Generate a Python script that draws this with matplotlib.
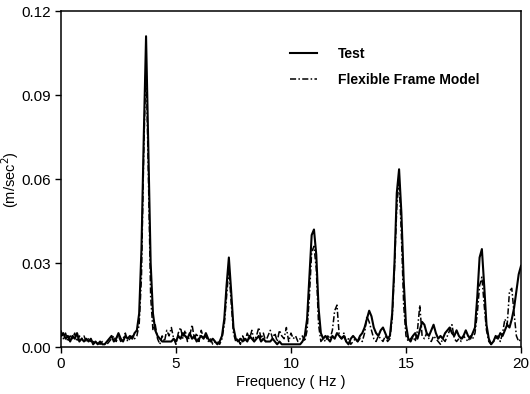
import numpy as np
import matplotlib
matplotlib.use("Agg")
import matplotlib.pyplot as plt

# Frequency grid (Hz), 0.1 Hz resolution
freq = np.round(np.arange(0, 201) * 0.1, 1)

test = [
    0.004, 0.005, 0.003, 0.004, 0.002, 0.004, 0.003, 0.005, 0.002, 0.003,
    0.002, 0.003, 0.002, 0.003, 0.001, 0.002, 0.001, 0.002, 0.001, 0.001,
    0.002, 0.003, 0.004, 0.002, 0.003, 0.005, 0.003, 0.002, 0.004, 0.003,
    0.004, 0.003, 0.005, 0.006, 0.012, 0.035, 0.075, 0.111, 0.070, 0.030,
    0.012, 0.006, 0.004, 0.003, 0.002, 0.002, 0.002, 0.002, 0.002, 0.003,
    0.002, 0.004, 0.003, 0.005, 0.004, 0.003, 0.005, 0.003, 0.004, 0.002,
    0.003, 0.004, 0.003, 0.005, 0.003, 0.002, 0.003, 0.002, 0.001, 0.002,
    0.004, 0.010, 0.022, 0.032, 0.020, 0.007, 0.003, 0.002, 0.003, 0.002,
    0.003, 0.002, 0.004, 0.003, 0.002, 0.003, 0.004, 0.002, 0.003, 0.002,
    0.002, 0.002, 0.003, 0.002, 0.001, 0.002, 0.001, 0.001, 0.001, 0.001,
    0.001, 0.001, 0.001, 0.001, 0.001, 0.002, 0.004, 0.010, 0.025, 0.040,
    0.042, 0.033, 0.014, 0.005, 0.003, 0.004, 0.003, 0.002, 0.004, 0.003,
    0.005, 0.004, 0.003, 0.004, 0.002, 0.001, 0.003, 0.004, 0.003, 0.002,
    0.004, 0.005, 0.007, 0.010, 0.013, 0.011, 0.007, 0.005, 0.004, 0.006,
    0.007, 0.005, 0.003, 0.004, 0.012, 0.030, 0.055, 0.0635, 0.048, 0.024,
    0.008, 0.003, 0.002, 0.004, 0.005, 0.003, 0.006, 0.009, 0.008, 0.005,
    0.004, 0.006, 0.008, 0.005, 0.003, 0.004, 0.003, 0.005, 0.006, 0.007,
    0.005, 0.004, 0.006, 0.004, 0.003, 0.004, 0.006, 0.004, 0.003, 0.005,
    0.007, 0.018, 0.032, 0.035, 0.022, 0.008, 0.003, 0.001, 0.002, 0.004,
    0.003, 0.005, 0.004, 0.006, 0.008, 0.007, 0.010, 0.014, 0.020, 0.026,
    0.029,
]

model = [
    0.006, 0.003, 0.005, 0.002, 0.004, 0.003, 0.005, 0.002, 0.004, 0.003,
    0.004, 0.002, 0.003, 0.002, 0.002, 0.001, 0.002, 0.001, 0.002, 0.001,
    0.001, 0.002, 0.003, 0.004, 0.002, 0.004, 0.002, 0.003, 0.005, 0.002,
    0.003, 0.004, 0.003, 0.004, 0.008, 0.025, 0.070, 0.102, 0.062, 0.018,
    0.006, 0.008, 0.003, 0.001, 0.004, 0.002, 0.006, 0.004, 0.007, 0.003,
    0.001, 0.005, 0.007, 0.003, 0.006, 0.002, 0.004, 0.008, 0.003, 0.005,
    0.002, 0.006, 0.003, 0.004, 0.002, 0.003, 0.001, 0.002, 0.002, 0.001,
    0.003, 0.008, 0.018, 0.028, 0.016, 0.005, 0.002, 0.003, 0.001, 0.004,
    0.002, 0.005, 0.003, 0.006, 0.002, 0.004, 0.007, 0.003, 0.005, 0.002,
    0.004, 0.006, 0.003, 0.005, 0.002, 0.006, 0.004, 0.003, 0.007, 0.002,
    0.005, 0.003, 0.004, 0.002, 0.003, 0.004, 0.002, 0.006, 0.018, 0.034,
    0.036, 0.028, 0.008, 0.002, 0.003, 0.002, 0.004, 0.003, 0.006, 0.013,
    0.015, 0.004, 0.003, 0.005, 0.002, 0.003, 0.001, 0.002, 0.003, 0.002,
    0.003, 0.002, 0.005, 0.011, 0.009, 0.006, 0.003, 0.002, 0.004, 0.003,
    0.002, 0.004, 0.002, 0.003, 0.010, 0.028, 0.050, 0.060, 0.040, 0.015,
    0.004, 0.002, 0.003, 0.004, 0.002, 0.006, 0.015, 0.004, 0.003, 0.005,
    0.003, 0.002, 0.004, 0.003, 0.002, 0.001, 0.003, 0.002, 0.004, 0.006,
    0.008, 0.003, 0.002, 0.003, 0.002, 0.004, 0.003, 0.002, 0.004, 0.003,
    0.005, 0.012, 0.022, 0.025, 0.015, 0.006, 0.002, 0.001, 0.002, 0.003,
    0.004, 0.002, 0.005, 0.010, 0.008, 0.020, 0.021, 0.012, 0.004, 0.002,
    0.003,
]

xticks = [0, 5, 10, 15, 20]
yticks = [0.00, 0.03, 0.06, 0.09, 0.12]
ytick_labels = ["0.00", "0.03", "0.06", "0.09", "0.12"]

plt.rcParams['font.family'] = ['Liberation Sans', 'DejaVu Sans']

fig = plt.figure(figsize=(5.30, 3.94), dpi=100)
ax = fig.add_axes([0.115, 0.119, 0.868, 0.853])

ax.plot(freq, test, color='black', lw=1.5, label='Test')
ax.plot(freq, model, color='black', lw=1.1, dashes=(4, 1.5, 1, 1.5),
        label='Flexible Frame Model')

ax.set_xlim(0, 20)
ax.set_ylim(0, 0.12)
ax.set_xticks(xticks)
ax.set_yticks(yticks)
ax.set_yticklabels(ytick_labels)
ax.tick_params(direction='out', length=4, width=1, labelsize=11)
ax.tick_params(axis='x', pad=3)
for s in ax.spines.values():
    s.set_linewidth(1.1)

ax.set_xlabel('Frequency ( Hz )', fontsize=10.5, labelpad=3)
ax.set_ylabel('(m/sec$^2$)', fontsize=10.5, labelpad=0)

leg = ax.legend(loc='upper left', bbox_to_anchor=(0.47, 0.93), frameon=False,
                prop={'weight': 'bold', 'size': 10}, handlelength=2.0,
                handletextpad=1.5, labelspacing=0.85)

fig.savefig('out.png', dpi=100)
